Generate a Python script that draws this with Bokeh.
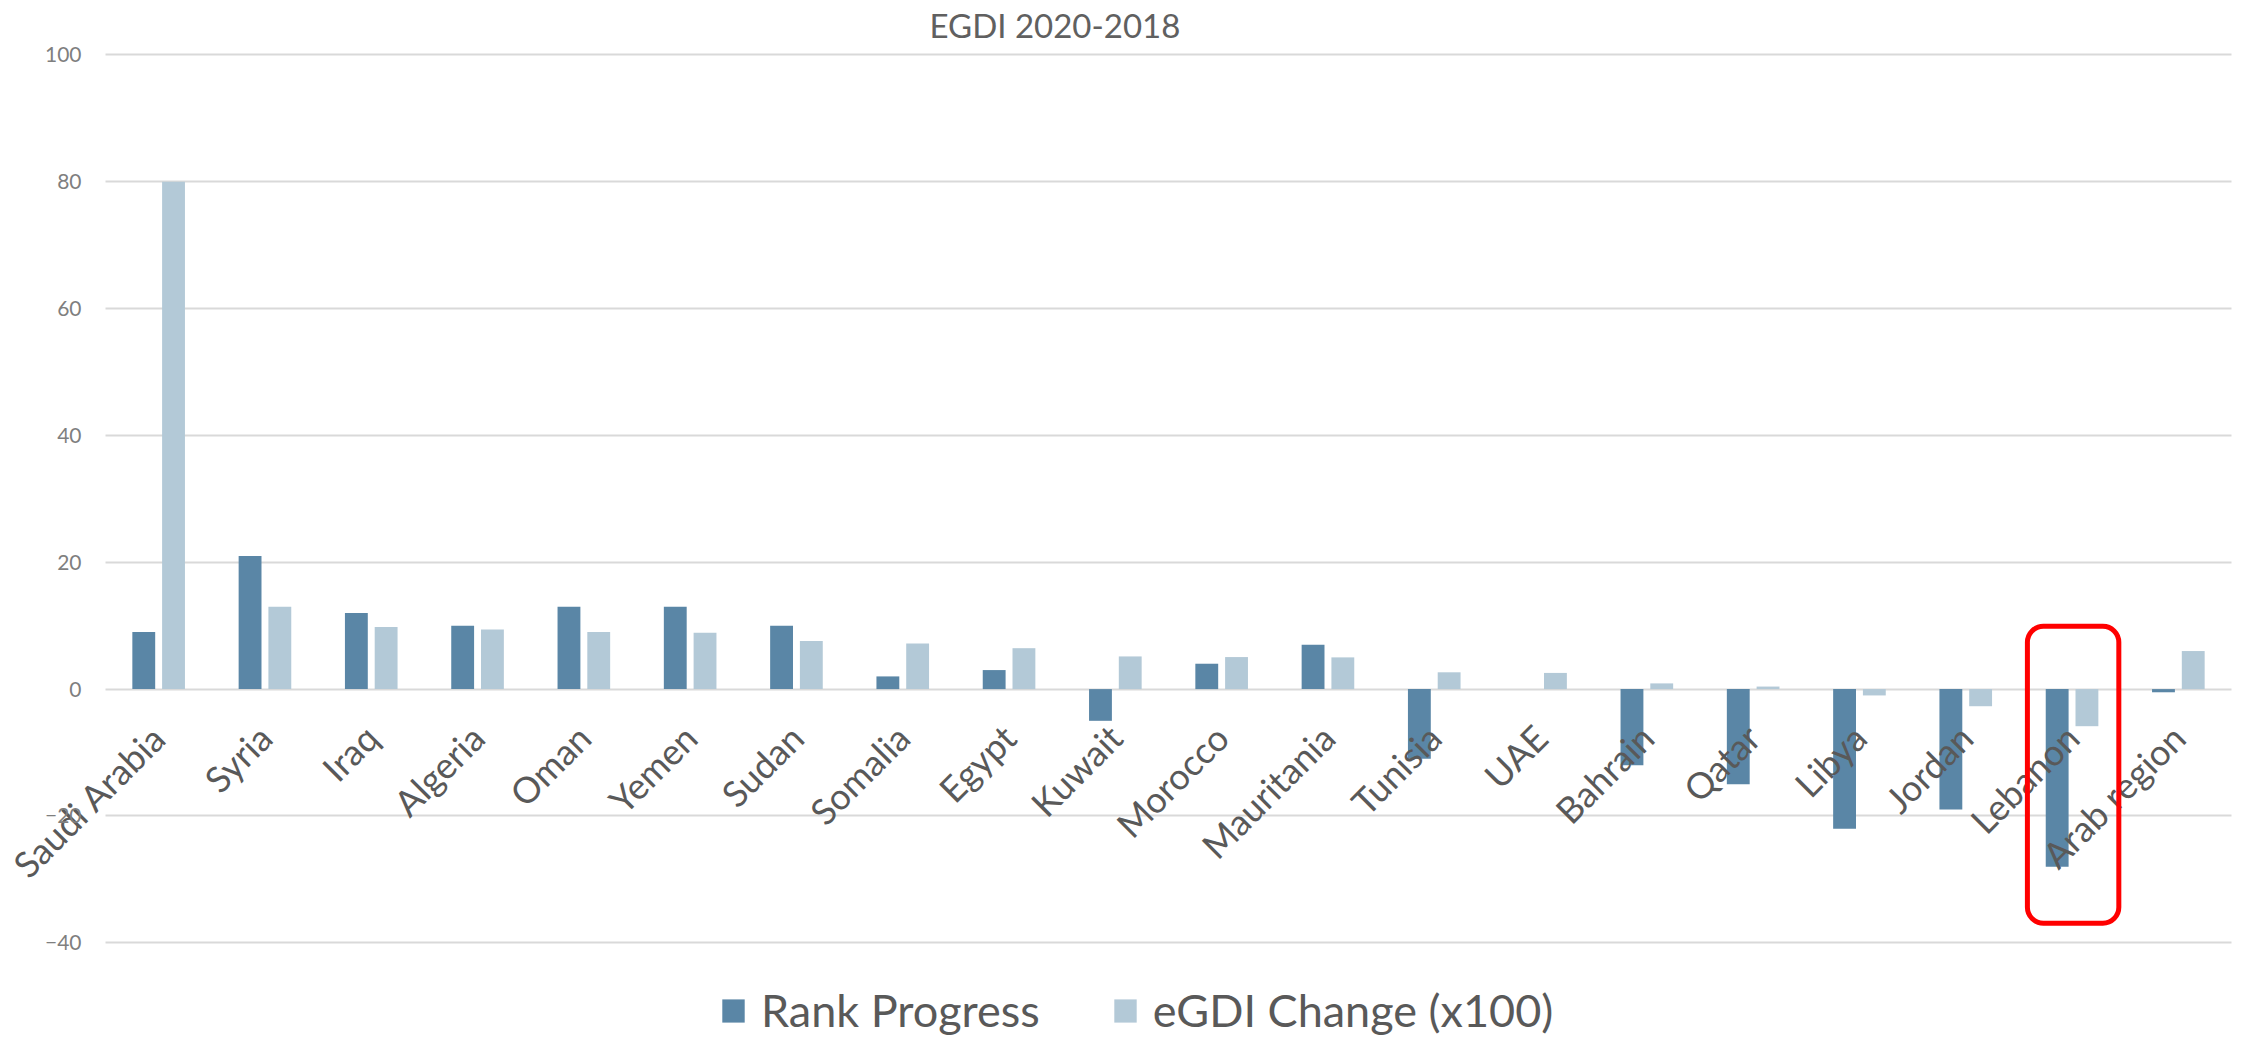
import numpy as np
from bokeh.plotting import figure
from bokeh.models import (ColumnDataSource, Range1d, FixedTicker, BoxAnnotation,
                          Legend, LegendItem)
from bokeh.transform import dodge
from bokeh.embed import file_html
from bokeh.resources import INLINE
from math import pi

# ---- data ----
countries = ["Saudi Arabia", "Syria", "Iraq", "Algeria", "Oman", "Yemen", "Sudan",
             "Somalia", "Egypt", "Kuwait", "Morocco", "Mauritania", "Tunisia", "UAE",
             "Bahrain", "Qatar", "Libya", "Jordan", "Lebanon", "Arab region"]
rank_progress = [9, 21, 12, 10, 13, 13, 10, 2, 3, -5, 4, 7, -11, 0, -12, -15, -22, -19, -28, -0.5]
egdi_change = [80, 13, 9.8, 9.4, 9, 8.9, 7.6, 7.2, 6.45, 5.15, 5.05, 5, 2.65, 2.55, 0.9, 0.4,
               -1, -2.7, -5.85, 6]
y_ticks = [-40, -20, 0, 20, 40, 60, 80, 100]
highlight = "Lebanon"
series_names = ["Rank Progress", "eGDI Change (x100)"]

FONT = "Lato"
DARK = "#5A86A6"
LIGHT = "#B3C9D7"
TXT = "#595959"

# ---- layout (pixels) ----
W, H = 2240, 1038
TOP = 44            # title band
LEFT = 105          # where the plotting area (gridlines) begins
RIGHT = 2231        # where it ends
PX_PER_UNIT = 6.343
ZERO_Y = 688.6      # pixel row of value 0
n = len(countries)
cat_w = (RIGHT - LEFT) / n
x_start = -0.5 - LEFT / cat_w
x_end = n - 0.5 + (W - RIGHT) / cat_w
y_end = (ZERO_Y - TOP) / PX_PER_UNIT
y_start = (ZERO_Y - H) / PX_PER_UNIT

idx = np.arange(n)
src = ColumnDataSource(dict(x=idx, country=countries, rank=rank_progress, egdi=egdi_change))

p = figure(width=W, height=H,
           x_range=Range1d(x_start, x_end), y_range=Range1d(y_start, y_end),
           output_backend="svg", toolbar_location=None)
p.min_border = 0
p.min_border_top = TOP
p.outline_line_color = None
p.background_fill_color = "white"
p.border_fill_color = "white"

# horizontal gridlines, only over the plotting area
p.xgrid.visible = False
p.ygrid.ticker = FixedTicker(ticks=y_ticks)
p.ygrid.grid_line_color = "#D9D9D9"
p.ygrid.grid_line_width = 2
try:
    p.ygrid.cross_bounds = (-0.5, n - 0.5)
except Exception:
    p.ygrid.visible = False
    p.segment(x0=-0.5, x1=n - 0.5, y0=y_ticks, y1=y_ticks,
              line_color="#D9D9D9", line_width=2, level="underlay")

r1 = p.vbar(x=dodge("x", -0.14), top="rank", width=0.215, source=src,
            fill_color=DARK, line_color=None)
r2 = p.vbar(x=dodge("x", 0.14), top="egdi", width=0.215, source=src,
            fill_color=LIGHT, line_color=None)

# y axis, placed at the left edge of the plotting area
yax = p.yaxis[0]
yax.fixed_location = -0.5
yax.ticker = FixedTicker(ticks=y_ticks)
yax.axis_line_color = None
yax.major_tick_line_color = None
yax.minor_tick_line_color = None
yax.major_tick_out = 0
yax.major_label_text_font = FONT
yax.major_label_text_font_size = "21px"
yax.major_label_text_color = "#7F7F7F"
yax.major_label_standoff = 24

# x axis crossing at zero
xax = p.xaxis[0]
xax.fixed_location = 0
xax.ticker = FixedTicker(ticks=list(idx))
overrides = {}
for i, c in enumerate(countries):
    overrides[int(i)] = c
    overrides[str(i)] = c
xax.major_label_overrides = overrides
xax.major_label_orientation = pi / 4
xax.axis_line_color = None
xax.major_tick_line_color = None
xax.minor_tick_line_color = None
xax.major_label_text_font = FONT
xax.major_label_text_font_size = "36px"
xax.major_label_text_color = TXT
xax.major_label_standoff = 36

# title
p.title.text = "EGDI 2020-2018"
p.title.text_font = FONT
p.title.text_font_size = "33px"
p.title.text_font_style = "normal"
p.title.text_color = "#606060"
p.title.align = "left"
p.title.offset = 929
p.title.standoff = 0

# highlight box around Lebanon
hi = countries.index(highlight)
box = BoxAnnotation(left=hi - 0.42, right=hi + 0.44, top=9.9, bottom=-36.9,
                    fill_alpha=0, line_color="#FF0000", line_alpha=1.0, line_width=5,
                    border_radius=16)
p.add_layout(box)

# legend below the plotting area
legend = Legend(items=[LegendItem(label=series_names[0], renderers=[r1]),
                       LegendItem(label=series_names[1], renderers=[r2])],
                orientation="horizontal", location=(719, 1),
                label_text_font=FONT, label_text_font_size="45px", label_text_color=TXT,
                glyph_width=28, glyph_height=29, label_standoff=14, spacing=71,
                padding=0, margin=0, border_line_color=None, background_fill_alpha=0)
p.add_layout(legend)

open("out.html", "w").write(file_html(p, INLINE))
